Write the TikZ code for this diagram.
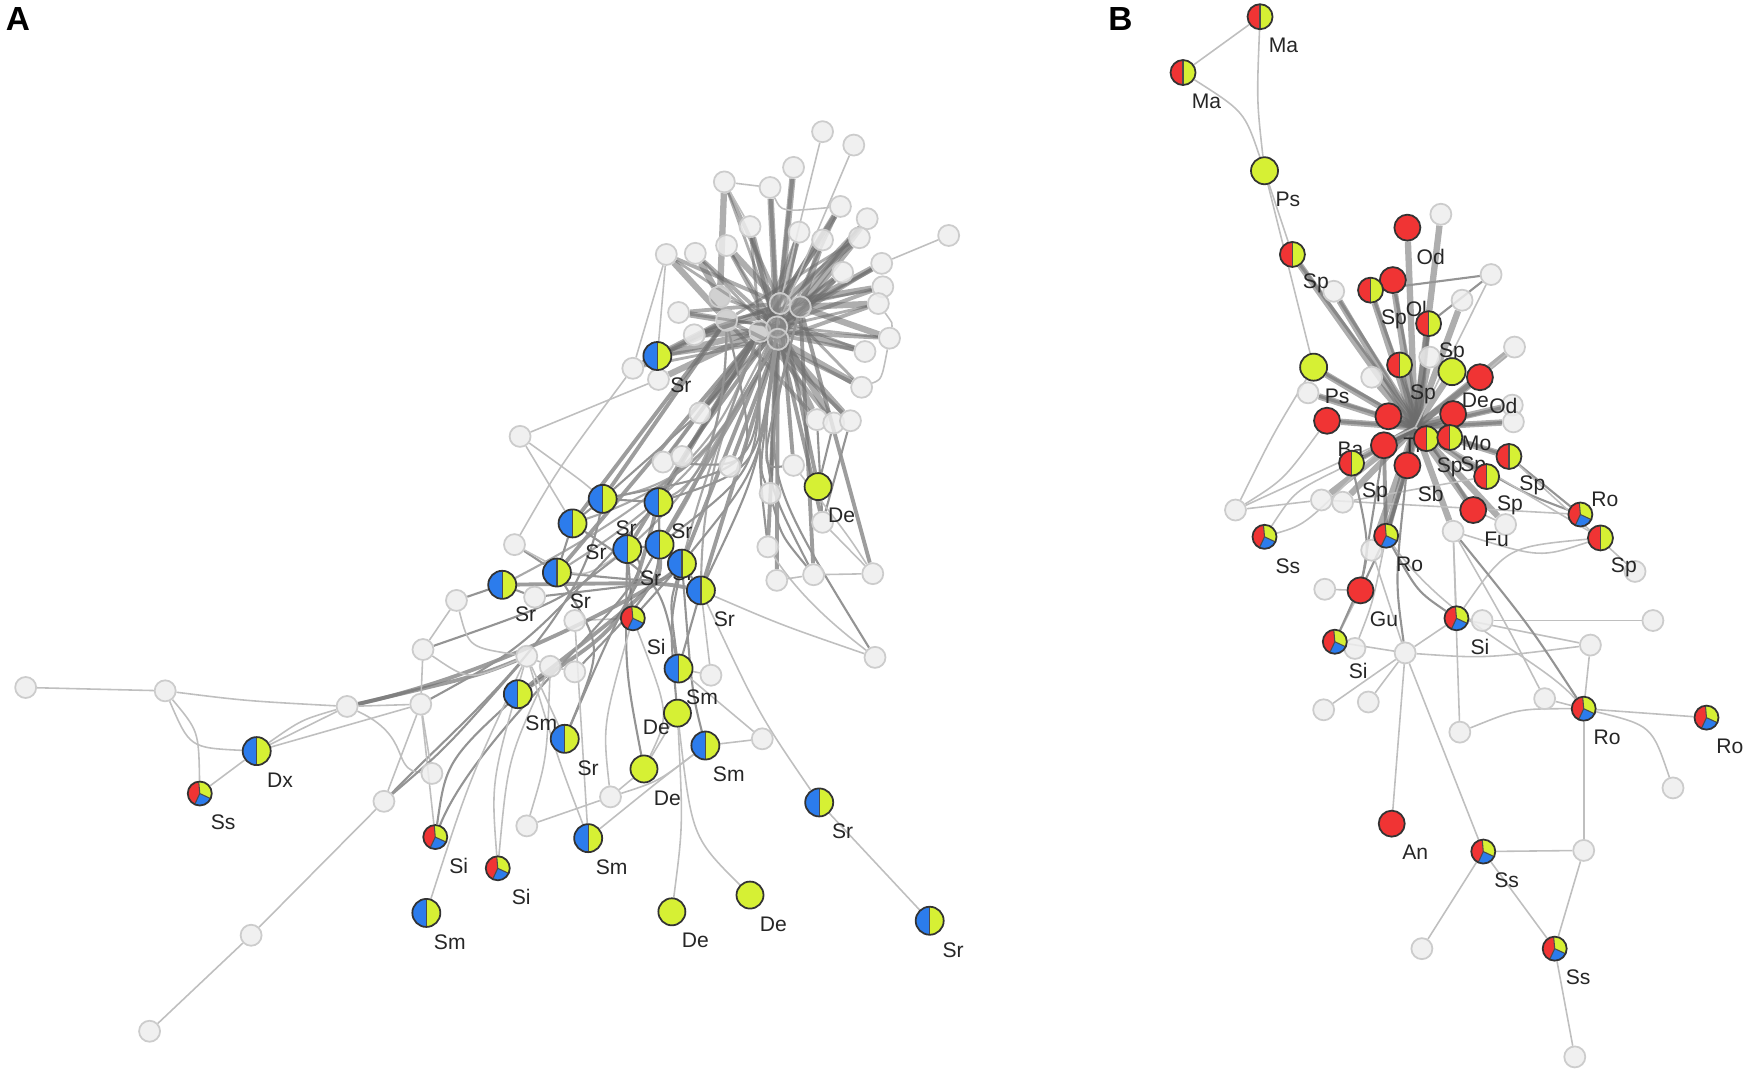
\documentclass[tikz,border=0pt]{standalone}
\usepackage{fontspec}
\setmainfont{Liberation Sans}

\definecolor{cblue}{RGB}{44,124,236}
\definecolor{cyel}{RGB}{214,240,52}
\definecolor{cred}{RGB}{240,52,52}

\pgfdeclarelayer{edges}
\pgfdeclarelayer{grays}
\pgfdeclarelayer{labs}
\pgfsetlayers{edges,grays,labs,main}

\begin{document}
\begin{tikzpicture}[x=0.01116cm, y=-0.01116cm,
  gn/.style={circle, draw=black!20, fill=black!7, fill opacity=0.85, minimum size=0.21cm, inner sep=0pt, line width=0.5pt},
  hn/.style={gn, fill=black!40, fill opacity=0.45},
  cn/.style={circle, draw=black!80, line width=0.5pt, minimum size=0.26cm, inner sep=0pt},
  by/.style={cn, minimum size=0.28cm, path picture={
      \fill[cblue] (path picture bounding box.south west) rectangle (path picture bounding box.north);
      \fill[cyel] (path picture bounding box.south) rectangle (path picture bounding box.north east);
      \draw[black!70, line width=0.35pt] (path picture bounding box.south) -- (path picture bounding box.north);}},
  ry/.style={cn, minimum size=0.25cm, path picture={
      \fill[cred] (path picture bounding box.south west) rectangle (path picture bounding box.north);
      \fill[cyel] (path picture bounding box.south) rectangle (path picture bounding box.north east);
      \draw[black!70, line width=0.35pt] (path picture bounding box.south) -- (path picture bounding box.north);}},
  tri/.style={cn, minimum size=0.24cm, path picture={
      \fill[cred] (path picture bounding box.center) -- ++(95:3mm) arc[start angle=95, end angle=245, radius=3mm] -- cycle;
      \fill[cyel] (path picture bounding box.center) -- ++(-25:3mm) arc[start angle=-25, end angle=95, radius=3mm] -- cycle;
      \fill[cblue] (path picture bounding box.center) -- ++(-115:3mm) arc[start angle=-115, end angle=-25, radius=3mm] -- cycle;
      \draw[black!70, line width=0.3pt] (path picture bounding box.center) -- ++(95:3mm)
        (path picture bounding box.center) -- ++(-25:3mm) (path picture bounding box.center) -- ++(-115:3mm);}},
  yel/.style={cn, fill=cyel, minimum size=0.27cm},
  rd/.style={cn, fill=cred, minimum size=0.26cm},
  lab/.style={font=\fontsize{6}{7}\selectfont, text=black!85, inner sep=0pt},
  panel/.style={font=\fontsize{9.5}{10}\selectfont\bfseries, inner sep=0pt},
  eL/.style={draw=black!25, line width=0.45pt},
  eM/.style={draw=black!42, line width=0.6pt},
  eH/.style={draw=black!55, line width=1.1pt, draw opacity=0.7},
  spoke/.style={draw=black!58, line width=1.8pt, draw opacity=0.55}]

  \useasboundingbox (0,0) rectangle (1568,964);

  % 面板字母
  \node[panel] (pA) at (16,17) {A};
  \node[panel] (pB) at (1004,17) {B};

  \begin{pgfonlayer}{grays}
  % ===== 左图 A：灰色节点 =====
  \node[gn] (a1) at (737,118) {};
  \node[gn] (a2) at (765,130) {};
  \node[gn] (a3) at (711,150) {};
  \node[gn] (a4) at (649,163) {};
  \node[gn] (a5) at (690,168) {};
  \node[gn] (a6) at (753,185) {};
  \node[gn] (a7) at (777,196) {};
  \node[gn] (a8) at (770,213) {};
  \node[gn] (a9) at (850,211) {};
  \node[gn] (a10) at (597,228) {};
  \node[gn] (a11) at (623,227) {};
  \node[gn] (a12) at (651,220) {};
  \node[gn] (a13) at (672,203) {};
  \node[gn] (a14) at (716,208) {};
  \node[gn] (a15) at (737,215) {};
  \node[gn] (a16) at (790,236) {};
  \node[gn] (a17) at (791,257) {};
  \node[gn] (a18) at (787,272) {};
  \node[gn] (a19) at (755,244) {};
  \node[gn] (a20) at (608,280) {};
  \node[gn] (a21) at (622,300) {};
  \node[gn] (a22) at (797,303) {};
  \node[gn] (a23) at (775,315) {};
  \node[gn] (a24) at (567,330) {};
  \node[gn] (a25) at (590,340) {};
  \node[gn] (a26) at (772,347) {};
  \node[gn] (a27) at (627,370) {};
  \node[gn] (a28) at (732,376) {};
  \node[gn] (a29) at (747,379) {};
  \node[gn] (a30) at (762,377) {};
  \node[hn] (h1) at (699,272) {};
  \node[hn] (h2) at (681,297) {};
  \node[hn] (h3) at (696,293) {};
  \node[hn] (h4) at (651,287) {};
  \node[hn] (h5) at (645,266) {};
  \node[hn] (h6) at (717,275) {};
  \node[hn] (h7) at (697,304) {};
  \node[gn] (b1) at (466,391) {};
  \node[gn] (b2) at (594,414) {};
  \node[gn] (b3) at (611,409) {};
  \node[gn] (b4) at (654,418) {};
  \node[gn] (b5) at (711,417) {};
  \node[gn] (b6) at (690,442) {};
  \node[gn] (b7) at (737,468) {};
  \node[gn] (b8) at (688,490) {};
  \node[gn] (b9) at (696,520) {};
  \node[gn] (b10) at (729,515) {};
  \node[gn] (b11) at (782,514) {};
  \node[gn] (b12) at (784,589) {};
  \node[gn] (b13) at (637,605) {};
  \node[gn] (b14) at (683,662) {};
  \node[gn] (b15) at (547,714) {};
  \node[gn] (b16) at (472,740) {};
  \node[gn] (b17) at (461,488) {};
  \node[gn] (b18) at (409,538) {};
  \node[gn] (b19) at (479,535) {};
  \node[gn] (b20) at (515,556) {};
  \node[gn] (b21) at (379,582) {};
  \node[gn] (b22) at (472,588) {};
  \node[gn] (b23) at (493,597) {};
  \node[gn] (b24) at (515,602) {};
  \node[gn] (b25) at (377,631) {};
  \node[gn] (b26) at (387,693) {};
  \node[gn] (b27) at (344,718) {};
  \node[gn] (b28) at (311,633) {};
  \node[gn] (b29) at (148,619) {};
  \node[gn] (b30) at (23,616) {};
  \node[gn] (b31) at (225,838) {};
  \node[gn] (b32) at (134,924) {};
  % ===== 右图 B：灰色节点 =====
  \node[gn] (c1) at (1291,192) {};
  \node[gn] (c2) at (1336,246) {};
  \node[gn] (c3) at (1310,269) {};
  \node[gn] (c4) at (1195,261) {};
  \node[gn] (c5) at (1357,311) {};
  \node[gn] (c6) at (1229,338) {};
  \node[gn] (c7) at (1172,352) {};
  \node[gn] (c8) at (1281,320) {};
  \node[gn] (c9) at (1355,363) {};
  \node[gn] (c10) at (1356,378) {};
  \node[gn] (c11) at (1107,457) {};
  \node[gn] (c12) at (1184,448) {};
  \node[gn] (c13) at (1203,450) {};
  \node[gn] (c14) at (1302,476) {};
  \node[gn] (c15) at (1349,470) {};
  \node[gn] (c16) at (1229,493) {};
  \node[gn] (c17) at (1465,512) {};
  \node[gn] (c18) at (1187,528) {};
  \node[gn] (c19) at (1328,556) {};
  \node[gn] (c20) at (1481,556) {};
  \node[gn] (c21) at (1214,581) {};
  \node[gn] (c22) at (1259,585) {};
  \node[gn] (c23) at (1425,578) {};
  \node[gn] (c24) at (1384,626) {};
  \node[gn] (c25) at (1186,636) {};
  \node[gn] (c26) at (1226,629) {};
  \node[gn] (c27) at (1308,656) {};
  \node[gn] (c28) at (1499,706) {};
  \node[gn] (c29) at (1419,762) {};
  \node[gn] (c30) at (1274,850) {};
  \node[gn] (c31) at (1411,947) {};
  \end{pgfonlayer}

  % ===== 左图 A：彩色节点 =====
  \node[by] (A1) at (589,319) {};
  \node[yel] (A2) at (733,436) {};
  \node[by] (A3) at (540,447) {};
  \node[by] (A4) at (590,450) {};
  \node[by] (A5) at (513,469) {};
  \node[by] (A6) at (562,492) {};
  \node[by] (A7) at (591,488) {};
  \node[by] (A8) at (611,505) {};
  \node[by] (A9) at (499,513) {};
  \node[by] (A10) at (450,524) {};
  \node[by] (A11) at (628,529) {};
  \node[tri] (A12) at (567,554) {};
  \node[by] (A13) at (608,599) {};
  \node[yel] (A14) at (607,639) {};
  \node[by] (A15) at (464,622) {};
  \node[by] (A16) at (506,662) {};
  \node[yel] (A17) at (577,689) {};
  \node[by] (A18) at (632,668) {};
  \node[by] (A19) at (734,719) {};
  \node[by] (A20) at (527,751) {};
  \node[tri] (A21) at (446,778) {};
  \node[tri] (A22) at (390,750) {};
  \node[by] (A23) at (382,818) {};
  \node[yel] (A24) at (602,817) {};
  \node[yel] (A25) at (672,802) {};
  \node[by] (A26) at (833,825) {};
  \node[by] (A27) at (230,673) {};
  \node[tri] (A28) at (179,711) {};
  \coordinate (fA) at (592,522);

  % ===== 右图 B：彩色节点 =====
  \node[ry] (B1) at (1129,15) {};
  \node[ry] (B2) at (1060,65) {};
  \node[yel] (B3) at (1133,153) {};
  \node[ry] (B4) at (1158,228) {};
  \node[rd] (B5) at (1261,204) {};
  \node[rd] (B6) at (1248,251) {};
  \node[ry] (B7) at (1228,260) {};
  \node[ry] (B8) at (1280,290) {};
  \node[yel] (B9) at (1177,329) {};
  \node[ry] (B10) at (1254,327) {};
  \node[yel] (B11) at (1301,333) {};
  \node[rd] (B12) at (1326,338) {};
  \node[rd] (B13) at (1189,377) {};
  \node[rd] (B14) at (1244,373) {};
  \node[rd] (B15) at (1302,371) {};
  \node[rd] (B16) at (1240,399) {};
  \node[ry] (B17) at (1278,393) {};
  \node[ry] (B18) at (1299,392) {};
  \node[ry] (B19) at (1211,415) {};
  \node[rd] (B20) at (1261,417) {};
  \node[ry] (B21) at (1352,409) {};
  \node[ry] (B22) at (1332,427) {};
  \node[rd] (B23) at (1320,457) {};
  \node[tri] (B24) at (1416,461) {};
  \node[ry] (B25) at (1434,482) {};
  \node[tri] (B26) at (1133,481) {};
  \node[tri] (B27) at (1242,480) {};
  \node[rd] (B28) at (1219,529) {};
  \node[tri] (B29) at (1305,554) {};
  \node[tri] (B30) at (1196,575) {};
  \node[tri] (B31) at (1419,635) {};
  \node[tri] (B32) at (1529,643) {};
  \node[rd] (B33) at (1247,738) {};
  \node[tri] (B34) at (1329,763) {};
  \node[tri] (B35) at (1393,850) {};
  \coordinate (hubB) at (1268,383);

  \begin{pgfonlayer}{edges}
    % A：中心星形
    \foreach \n/\h in {a3/h1, a4/h5, a5/h3, a6/h1, a7/h6, a8/h1, a10/h4, a11/h5, a12/h1, a13/h3,
                       a14/h1, a15/h6, a16/h6, a17/h1, a18/h6, a19/h3, a20/h4, a21/h2, a22/h6, a23/h3,
                       a26/h7, a27/h2, a28/h7, a29/h3, a30/h7, A1/h2, a24/h4, a25/h2}
      \draw[spoke] (\h) -- (\n);
    \foreach \n/\h in {a3/h3, a4/h1, a5/h7, a6/h2, a7/h3, a8/h7, a10/h1, a11/h3, a12/h7, a14/h2,
                       a16/h3, a17/h2, a18/h7, a20/h1, a21/h6, a22/h2, a23/h2, a26/h4, a27/h6,
                       A1/h4, A1/h7, A1/h1, a13/h7, a15/h2, a19/h7, a28/h4, a29/h2, a30/h2}
      \draw[spoke, line width=1.1pt] (\h) -- (\n);
    \foreach \n/\h in {a4/h3, a6/h7, a7/h2, a8/h4, a10/h3, a11/h7, a14/h7, a16/h2, a17/h4, a18/h2,
                       a20/h3, a21/h1, a22/h4, a23/h5, a26/h1, a27/h3, a12/h3, a13/h2, a19/h2, a24/h7}
      \draw[spoke, line width=0.8pt] (\h) -- (\n);
    \draw[eL] (h1) -- (a1);
    \draw[eL] (h3) -- (a2);
    \draw[eL] (a9) -- (a16);
    \draw[eL] (a4) -- (a5);
    \draw[eL] (a4) -- (a13);
    \draw[eL] (a6) .. controls (700,190) .. (a5);
    \draw[eL] (a10) -- (A1);
    \draw[eL] (a10) -- (a24);
    \draw[eL] (a24) -- (A1);
    \draw[eL] (a25) -- (b1);
    \draw[eL] (a18) .. controls (800,290) .. (a22);
    \draw[eL] (a22) .. controls (790,340) .. (a26);
    \draw[eL] (a24) .. controls (500,420) .. (b17);
    % A：星形到 Sr 群
    \foreach \n/\h in {A4/h2, A7/h7, A8/h3, A3/h4, b2/h2, b3/h3, b5/h1, b6/h3, b8/h7, b10/h6,
                       A2/h1, A11/h7, A6/h2, A5/h4, b9/h7, b7/h3, A9/h2, b4/h7, b11/h6}
      \draw[eH] (\h) -- (\n);
    \foreach \n/\h in {A4/h3, A7/h2, A8/h7, b2/h4, b6/h7, b8/h2, A11/h3, A3/h2, b5/h6, b10/h1, b12/h6}
      \draw[eM] (\h) .. controls (680,420) .. (\n);
    \foreach \n/\h in {A3/h7, A4/h4, A6/h3, A7/h4, A8/h2, A9/h7, A10/h2, A11/h2, A5/h7}
      \draw[eM, draw opacity=0.8] (\h) .. controls (650,380) and (630,430) .. (\n);
    \draw[eM] (a27) -- (A3);
    \draw[eM] (a27) -- (b2);
    \draw[eM] (a28) -- (b7);
    \draw[eM] (a29) -- (A2);
    \draw[eM] (a30) -- (b7);
    \draw[eL] (b1) -- (A5);
    \draw[eL] (b1) .. controls (520,430) .. (A3);
    \draw[eL] (b7) -- (b11);
    \draw[eL] (b10) -- (b11);
    \draw[eL] (b9) -- (b10);
    \draw[eM] (b6) .. controls (700,480) .. (b10);
    \draw[eL] (b8) .. controls (720,540) and (760,570) .. (b12);
    \draw[eL] (b5) .. controls (760,480) .. (b11);
    % A：Sr 群内部
    \draw[eH] (A10) .. controls (fA) .. (A11);
    \draw[eM] (b18) -- (A10);
    \draw[eM] (b17) -- (A9);
    \draw[eM] (A10) -- (b19);
    \draw[eM] (A9) -- (A5);
    \draw[eM] (A3) -- (A5);
    \draw[eM] (A3) -- (A4);
    \draw[eM] (A4) -- (A7);
    \draw[eM] (A6) -- (A7);
    \draw[eM] (A7) -- (A8);
    \draw[eM] (A8) -- (A11);
    \draw[eM] (A9) .. controls (fA) .. (A8);
    \draw[eM] (A5) .. controls (fA) .. (A13);
    \draw[eM] (A12) -- (A6);
    \draw[eM] (A12) -- (A8);
    \draw[eL] (b17) .. controls (520,520) .. (A6);
    \draw[eL] (b20) -- (A12);
    % A：Sr 群向下
    \draw[eH] (A15) .. controls (fA) .. (A7);
    \draw[eH] (A15) .. controls (560,560) .. (A4);
    \draw[eH] (b28) .. controls (460,600) and (fA) .. (A8);
    \draw[eH] (b28) .. controls (430,605) .. (b22);
    \draw[eM] (b21) .. controls (500,540) .. (A6);
    \draw[eM] (b25) .. controls (470,580) .. (A4);
    \draw[eM] (b27) .. controls (420,640) and (520,560) .. (A3);
    \draw[eM] (A22) .. controls (430,650) and (fA) .. (A6);
    \draw[eM] (A16) .. controls (540,580) .. (A9);
    \draw[eM] (A16) .. controls (550,560) .. (A7);
    \draw[eM] (A17) .. controls (560,600) .. (A6);
    \draw[eM] (A14) .. controls (600,560) .. (A8);
    \draw[eM] (A13) -- (A11);
    \draw[eM] (A13) .. controls (600,540) .. (A8);
    \draw[eL] (b13) -- (A11);
    \draw[eL] (b13) -- (A13);
    \draw[eL] (A20) -- (b20);
    \draw[eM] (A18) .. controls (620,620) .. (A8);
    \draw[eL] (b14) -- (A18);
    \draw[eL] (b14) -- (A13);
    \draw[eL] (b22) -- (b23);
    \draw[eL] (b23) -- (b24);
    \draw[eM] (b24) .. controls (fA) .. (A4);
    \draw[eM] (b19) .. controls (fA) .. (A8);
    \draw[eL] (b18) -- (b21);
    \draw[eL] (b18) .. controls (420,580) .. (b22);
    \draw[eL] (b21) .. controls (420,610) .. (b22);
    % A：左支
    \draw[eL] (b30) -- (b29);
    \draw[eL] (b29) .. controls (220,628) .. (b28);
    \draw[eL] (b29) .. controls (178,655) .. (A28);
    \draw[eL] (b29) .. controls (170,670) .. (A27);
    \draw[eL] (A28) -- (A27);
    \draw[eL] (A27) -- (b28);
    \draw[eL] (A27) .. controls (270,645) .. (b28);
    \draw[eL] (A27) -- (b25);
    \draw[eL] (b28) -- (b25);
    \draw[eL] (b28) .. controls (370,660) and (350,690) .. (b26);
    \draw[eL] (b25) -- (b27);
    \draw[eL] (b25) -- (A22);
    \draw[eL] (b25) -- (b21);
    \draw[eL] (b25) -- (b26);
    \draw[eL] (b27) -- (b31);
    \draw[eL] (b31) -- (b32);
    \draw[eM] (b27) .. controls (400,670) .. (b22);
    \draw[eM] (A22) .. controls (400,680) .. (b23);
    \draw[eL] (A23) .. controls (420,700) .. (b22);
    \draw[eL] (A21) .. controls (455,680) .. (b23);
    \draw[eL] (A21) .. controls (440,700) .. (b22);
    \draw[eL] (b16) -- (b15);
    \draw[eL] (b16) .. controls (490,680) .. (b23);
    \draw[eL] (A20) .. controls (500,680) .. (b22);
    \draw[eL] (A20) .. controls (590,700) .. (A18);
    \draw[eL] (b15) .. controls (540,650) .. (A12);
    \draw[eL] (b15) -- (A17);
    \draw[eL] (b15) .. controls (590,700) .. (A18);
    \draw[eL] (A16) -- (b22);
    \draw[eL] (A17) .. controls (600,640) .. (A12);
    \draw[eL] (A24) .. controls (612,740) .. (A14);
    \draw[eL] (A25) .. controls (620,750) .. (A14);
    \draw[eL] (A17) -- (A14);
    \draw[eL] (A26) -- (A19);
    \draw[eL] (A19) .. controls (680,640) .. (A11);
    \draw[eL] (b12) .. controls (700,560) .. (A11);

    % B：上部
    \draw[eL] (B1) -- (B2);
    \draw[eL] (B1) .. controls (1126,90) .. (B3);
    \draw[eL] (B2) .. controls (1115,100) .. (B3);
    \draw[eL] (B3) -- (B4);
    \draw[eL] (B3) -- (B9);
    % B：中心星形
    \foreach \n in {B4,B5,B6,B7,B8,B9,B10,B11,B12,B13,B14,B15,B16,B17,B18,B19,B20,B21,B22,B23,
                    B27,c1,c3,c4,c5,c6,c7,c8,c9,c10,c12,c13,c16,c14,c15}
      \draw[spoke] (hubB) -- (\n);
    \foreach \n in {B4,B9,B13,B27,B23,B22,c9,c10,B21,B19,c7,B7,B8,B6,c4}
      \draw[spoke, line width=0.9pt] ([xshift=1.5pt]hubB) -- (\n);
    \draw[eM] (c2) -- (B7);
    \draw[eM] (c2) -- (B8);
    \draw[eL] (c2) -- (hubB);
    \draw[eL] (c5) -- (B12);
    \draw[eL] (c11) -- (hubB);
    \draw[eL] (c11) .. controls (1150,430) .. (B13);
    \draw[eL] (c11) .. controls (1140,390) .. (B9);
    \draw[eL] (c11) -- (c12);
    \draw[eL] (c12) -- (B24);
    \draw[eL] (c13) -- (B22);
    \draw[eL] (B26) .. controls (1160,440) .. (B19);
    \draw[eL] (B26) .. controls (1170,470) .. (B16);
    \draw[eM] (hubB) .. controls (1360,440) .. (B24);
    \draw[eM] (B21) -- (B24);
    \draw[eL] (hubB) .. controls (1380,450) .. (B25);
    \draw[eL] (c17) -- (B21);
    \draw[eL] (c15) -- (B23);
    % B：下部
    \draw[eH] (B27) -- (B16);
    \draw[eH] (B27) -- (B20);
    \draw[eM] (B27) -- (B28);
    \draw[eM] (B27) .. controls (1270,530) .. (B29);
    \draw[eL] (B27) .. controls (1300,560) and (1380,590) .. (B31);
    \draw[eL] (B28) -- (c18);
    \draw[eM] (B28) -- (B16);
    \draw[eL] (B28) -- (B30);
    \draw[eM] (B30) .. controls (1230,500) .. (B19);
    \draw[eL] (B30) -- (c21);
    \draw[eL] (B30) -- (c22);
    \draw[eL] (c22) -- (B29);
    \draw[eL] (c22) -- (c25);
    \draw[eL] (c22) -- (c26);
    \draw[eM] (c22) .. controls (1250,520) .. (B20);
    \draw[eL] (c22) .. controls (1330,590) .. (c23);
    \draw[eL] (c22) -- (B33);
    \draw[eL] (c22) -- (B34);
    \draw[eL] (c21) .. controls (1230,540) .. (B27);
    \draw[eL] (c16) -- (c22);
    \draw[eL] (B29) -- (c19);
    \draw[eL] (c19) -- (c20);
    \draw[eL] (B29) -- (c23);
    \draw[eL] (B29) .. controls (1350,490) .. (B25);
    \draw[eL] (c14) -- (B29);
    \draw[eL] (c14) -- (c27);
    \draw[eM] (c14) .. controls (1370,560) .. (B31);
    \draw[eL] (c14) .. controls (1380,500) .. (B25);
    \draw[eL] (c23) -- (B31);
    \draw[eL] (c24) .. controls (1350,560) .. (c14);
    \draw[eL] (c24) -- (B31);
    \draw[eL] (c27) .. controls (1360,635) .. (B31);
    \draw[eL] (B31) -- (B32);
    \draw[eL] (B31) .. controls (1480,650) .. (c28);
    \draw[eL] (B31) -- (c29);
    \draw[eL] (c29) -- (B34);
    \draw[eL] (c29) -- (B35);
    \draw[eL] (B34) -- (B35);
    \draw[eL] (B34) -- (c30);
    \draw[eL] (B35) -- (c31);
  \end{pgfonlayer}

  % 标签
  \begin{pgfonlayer}{labs}
    \foreach \n/\t in {A1/Sr, A2/De, A3/Sr, A4/Sr, A5/Sr, A6/Sr, A7/Sr, A8/Sr, A9/Sr, A10/Sr,
                       A11/Sr, A12/Si, A13/Sm, A15/Sm, A16/Sr, A17/De, A18/Sm, A19/Sr, A20/Sm,
                       A21/Si, A22/Si, A23/Sm, A24/De, A25/De, A26/Sr, A27/Dx, A28/Ss,
                       B1/Ma, B2/Ma, B3/Ps, B4/Sp, B5/Od, B6/Ol, B7/Sp, B8/Sp, B9/Ps, B10/Sp,
                       B11/De, B12/Od, B13/Ba, B14/Ti, B15/Mo, B17/Sp, B18/Sp, B19/Sp, B20/Sb,
                       B21/Sp, B22/Sp, B23/Fu, B25/Sp, B26/Ss, B27/Ro, B28/Gu, B29/Si, B30/Si,
                       B31/Ro, B32/Ro, B33/An, B34/Ss, B35/Ss}
      \node[lab] (t\n) at ([shift={(21,26)}]\n.center) {\t};
    \node[lab] (tA14) at ([shift={(-19,13)}]A14.center) {De};
    \node[lab] (tB24) at ([shift={(22,-14)}]B24.center) {Ro};
  \end{pgfonlayer}
\end{tikzpicture}
\end{document}
